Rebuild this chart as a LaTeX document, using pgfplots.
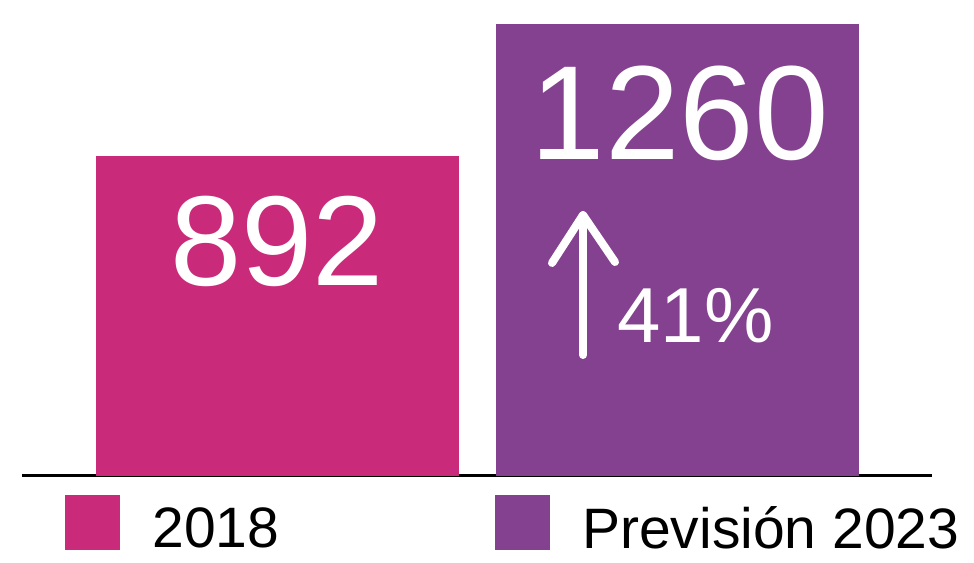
\documentclass[border=0pt]{standalone}
\usepackage{pgfplots}
\pgfplotsset{compat=1.18}
\usepackage{fontspec}
\setmainfont{Liberation Sans}
\definecolor{cpink}{RGB}{201,42,122}
\definecolor{cpurple}{RGB}{132,65,143}
\begin{document}
\begin{tikzpicture}
\begin{axis}[
 scale only axis, width=455pt, height=226pt,
 xmin=22, xmax=932, ymin=0, ymax=1260,
 axis y line=none, axis x line*=bottom,
 axis line style={-, line width=1.5pt, black},
 xtick=\empty, ytick=\empty,
 clip=false,
 ybar, bar width=363, bar shift=0pt,
 legend columns=2,
 legend style={at={(axis cs:65,-53)}, anchor=north west, draw=none, fill=none, inner sep=0pt,
   font=\fontsize{28.5}{30}\selectfont,
   /tikz/every odd column/.append style={column sep=14pt},
   /tikz/every even column/.append style={column sep=106pt}},
 legend image code/.code={\fill[#1] (0pt,-10.5pt) rectangle (27.5pt,17pt);},
]
\addplot[fill=cpink, draw=none] coordinates {(277.5,892)};
\addlegendentry{2018}
\addplot[fill=cpurple, draw=none] coordinates {(677.5,1260)};
\addlegendentry{Previsión 2023}
\node[text=white, anchor=base, inner sep=0pt, font=\fontsize{64}{66}\selectfont] at (axis cs:277,532.4) {892};
\node[text=white, anchor=base, inner sep=0pt, font=\fontsize{67}{69}\selectfont] at (axis cs:680,880.9) {1260};
\node[text=white, anchor=base west, inner sep=0pt, font=\fontsize{39}{41}\selectfont] at (axis cs:617,370.8) {41\%};
\draw[white, line width=4pt, line cap=round, line join=round] (axis cs:583,337.3) -- (axis cs:583,727.6);
\draw[white, line width=4pt, line cap=round, line join=round] (axis cs:552,593.8) -- (axis cs:583,727.6) -- (axis cs:615,596.5);
\coordinate (bbl) at (axis cs:0,-242.5);
\coordinate (btr) at (axis cs:974,1326.9);
\end{axis}
\pgfresetboundingbox
\useasboundingbox (bbl) rectangle (btr);
\end{tikzpicture}
\end{document}
